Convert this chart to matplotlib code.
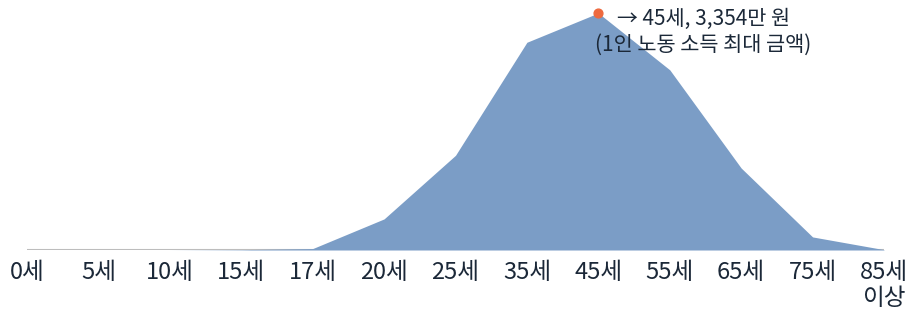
import matplotlib
matplotlib.use("Agg")
import matplotlib.pyplot as plt
import numpy as np

plt.rcParams["font.family"] = ["Noto Sans CJK KR", "DejaVu Sans"]

# 연령별 1인 노동 소득 (만 원)
ages = ["0세", "5세", "10세", "15세", "17세", "20세", "25세",
        "35세", "45세", "55세", "65세", "75세", "85세\n이상"]
income = [0, 0, 0, 5, 20, 440, 1340, 2940, 3354, 2550, 1160, 185, 5]

FILL = "#7B9DC6"
DOT = "#EE6A3F"
TEXT = "#1B2838"

fig = plt.figure(figsize=(9.11, 3.27), dpi=100)
ax = fig.add_axes([27 / 911, 1 - 250 / 327, (884 - 27) / 911, (250 - 13) / 327])

x = np.arange(len(ages))
ax.axhline(0, color="#BDBDBD", linewidth=1.5, zorder=1)
ax.fill_between(x, income, 0, color=FILL, linewidth=0, zorder=2)

peak = int(np.argmax(income))
ax.scatter([x[peak]], [income[peak]], s=40, color=DOT, zorder=4, clip_on=False)
ax.text(x[peak] + 1.47, income[peak] + 70,
        f"→ 45세, {income[peak]:,}만 원\n(1인 노동 소득 최대 금액)",
        ha="center", va="top", fontsize=15, color=TEXT, linespacing=1.2)

ax.set_xlim(0, len(ages) - 1)
ax.set_ylim(0, max(income))
ax.set_xticks(x)
ax.set_xticklabels(ages, fontsize=17, color=TEXT, linespacing=1.15)
ax.tick_params(axis="x", length=0, pad=8)
ax.set_yticks([])
for s in ax.spines.values():
    s.set_visible(False)

plt.savefig("out.png", dpi=100)
